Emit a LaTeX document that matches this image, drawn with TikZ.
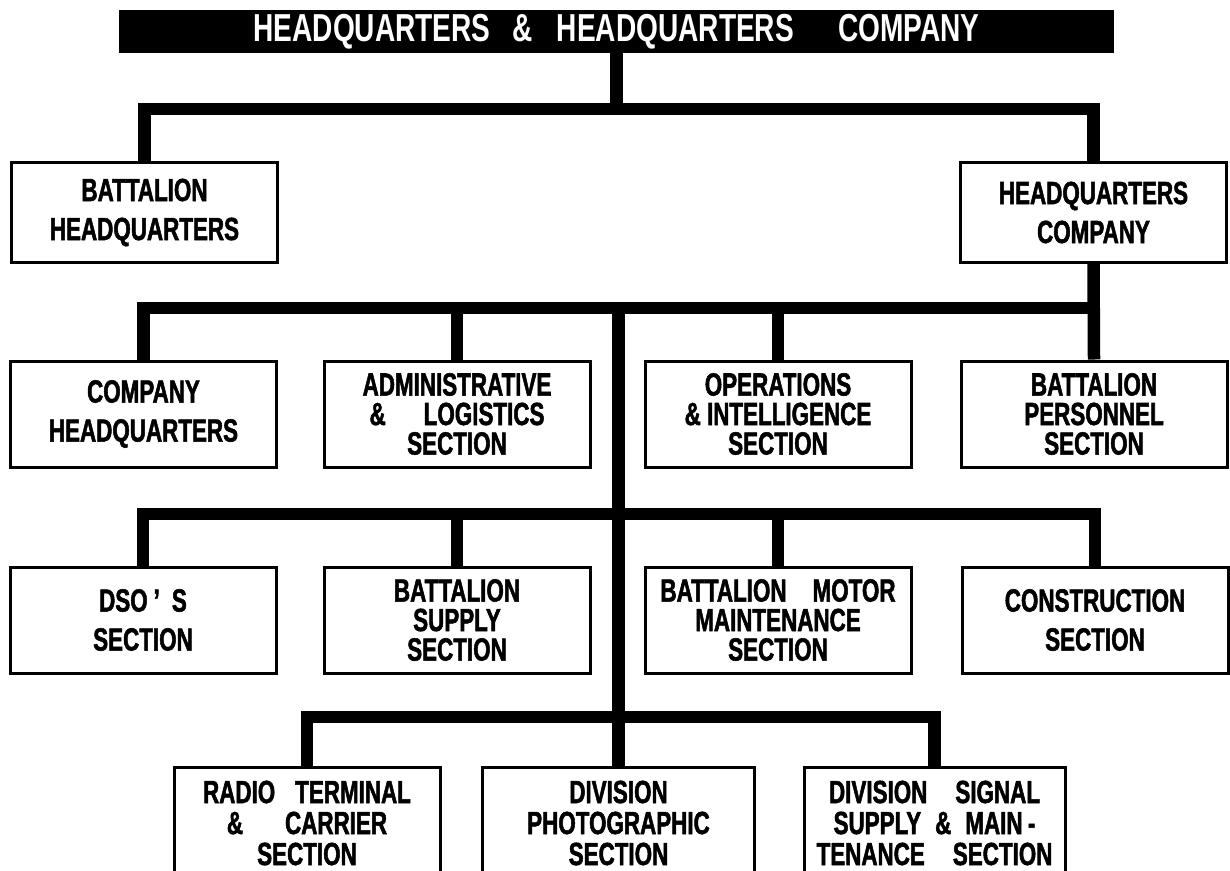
\documentclass[tikz,border=0pt]{standalone}
\usepackage{fontspec}
\newfontfamily\orgfont{Liberation Sans}[FakeStretch=0.7, BoldFeatures={FakeBold=1.6}]
\newfontfamily\bannerfont{Liberation Sans}[FakeStretch=0.72]

\tikzset{
  unitbox/.style={draw, line width=3pt, minimum width=266pt, minimum height=106pt,
    inner sep=0pt, align=center, font=\orgfont\bfseries\fontsize{32}{39}\selectfont},
  unitboxiii/.style={unitbox, font=\orgfont\bfseries\fontsize{32}{29.5}\selectfont},
  lowbox/.style={unitbox, minimum height=112pt, font=\orgfont\bfseries\fontsize{32}{31}\selectfont},
  hqbar/.style={fill=black, text=white, minimum width=995pt, minimum height=43pt,
    inner sep=0pt, font=\bannerfont\bfseries\fontsize{39}{39}\selectfont},
  bus/.style={line width=12.5pt, line join=miter},
}

\begin{document}
\begin{tikzpicture}[x=1pt, y=-1pt]
    \useasboundingbox (0,0) rectangle (1230,870);

    \node[hqbar] (hq) at (616.5,31.5) {HEADQUARTERS\hspace{22pt}\&\hspace{24pt}HEADQUARTERS\hspace{44pt}COMPANY};

    % levels of the connecting bars
    \coordinate (bus1) at (0,109);
    \coordinate (bus2) at (0,308);
    \coordinate (bus3) at (0,514);
    \coordinate (bus4) at (0,717);

    % first row
    \node[unitbox, minimum height=100pt] (bhq) at (144.5,212.5) {BATTALION\\HEADQUARTERS};
    \node[unitbox, minimum height=100pt] (hqco) at (1093.5,212.5) {HEADQUARTERS\\COMPANY};

    % second row
    \node[unitbox] (cohq) at (143.5,414) {COMPANY\\HEADQUARTERS};
    \node[unitboxiii] (admin) at (457,414) {ADMINISTRATIVE\\\&\hspace{38pt}LOGISTICS\\SECTION};
    \node[unitboxiii] (ops) at (778,414) {OPERATIONS\\\& INTELLIGENCE\\SECTION};
    \node[unitboxiii] (pers) at (1094,414) {BATTALION\\PERSONNEL\\SECTION};

    % third row
    \node[unitbox] (dso) at (143,620) {DSO\hspace{6pt}’\hspace{12pt}S\\SECTION};
    \node[unitboxiii] (supply) at (457,620) {BATTALION\\SUPPLY\\SECTION};
    \node[unitboxiii] (motor) at (778,620) {BATTALION\hspace{26pt}MOTOR\\MAINTENANCE\\SECTION};
    \node[unitbox] (constr) at (1095,620) {CONSTRUCTION\\SECTION};

    % fourth row
    \node[lowbox] (radio) at (307,823) {RADIO\hspace{20pt}TERMINAL\\\&\hspace{42pt}CARRIER\\SECTION};
    \node[lowbox, minimum width=272pt] (photo) at (618.5,823) {DIVISION\\PHOTOGRAPHIC\\SECTION};
    \node[lowbox, minimum width=261pt] (signal) at (934.5,823) {DIVISION\hspace{28pt}SIGNAL\\SUPPLY\hspace{14pt}\&\hspace{14pt}MAIN\,-\\TENANCE\hspace{28pt}SECTION};

    % connectors
    \draw[bus] (hq.south) -- (hq.south |- bus1);
    \draw[bus] (bhq.north) |- (hqco.north |- bus1) -- (hqco.north);

    \draw[bus] (hqco.south) -- (pers.north);
    \draw[bus] (cohq.north) |- (pers.north |- bus2);
    \draw[bus] (admin.north |- bus2) -- (admin.north);
    \draw[bus] (ops.north |- bus2) -- (ops.north);
    \draw[bus] (photo.north |- bus2) -- (photo.north);

    \draw[bus] (dso.north) |- (constr.north |- bus3) -- (constr.north);
    \draw[bus] (supply.north |- bus3) -- (supply.north);
    \draw[bus] (motor.north |- bus3) -- (motor.north);

    \draw[bus] (radio.north) |- (signal.north |- bus4) -- (signal.north);
\end{tikzpicture}
\end{document}
